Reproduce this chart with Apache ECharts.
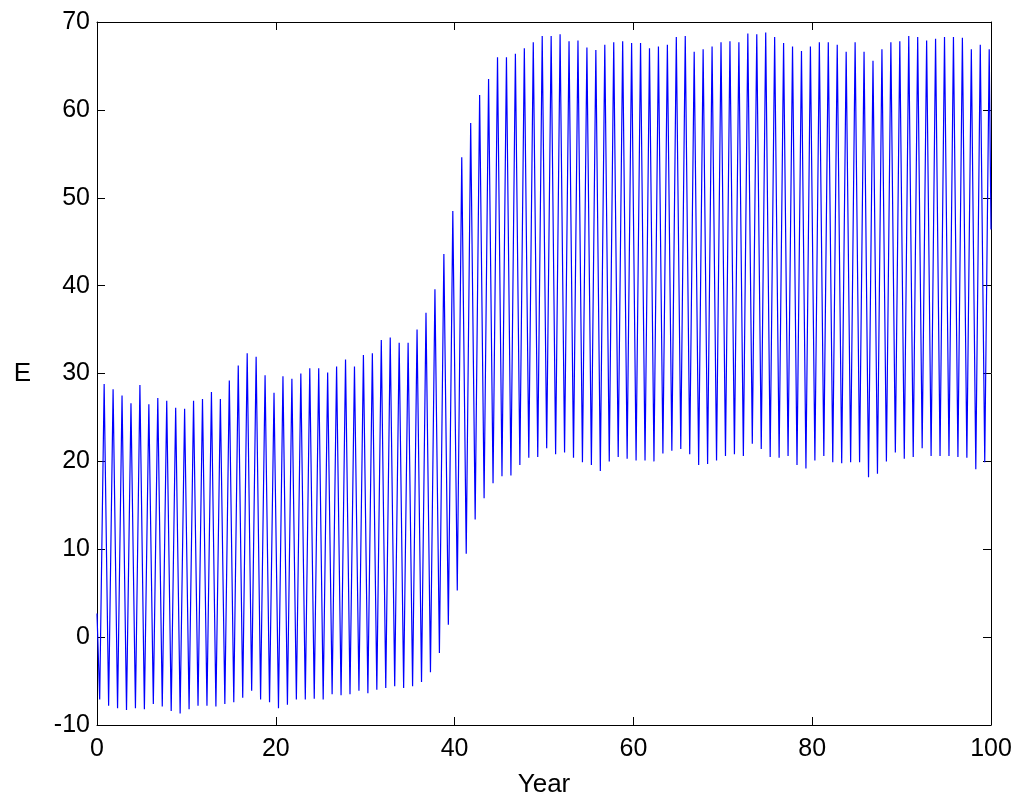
<!DOCTYPE html>
<html>
<head>
<meta charset="utf-8">
<title>E vs Year</title>
<script src="https://cdn.jsdelivr.net/npm/echarts@6/dist/echarts.min.js"></script>
<style>
  html, body { margin: 0; padding: 0; background: #fff; }
  #chart { width: 1019px; height: 803px; }
</style>
</head>
<body>
<div id="chart"></div>
<script>
// Values: one oscillation per year
const startValue = 2.7;   // E at year 0
const endValue = 46.4;    // E at year 100
const troughPhase = 0.3;  // offset within the year of each low
const peakPhase = 0.8;    // offset within the year of each high

// highs, years 0..99
const peaks = [
  28.8, 28.2, 27.5, 26.6, 28.7, 26.5, 27.2, 26.9, 26.1, 26.0,
  26.9, 27.1, 27.9, 27.1, 29.2, 30.9, 32.3, 31.9, 29.8, 27.8,
  29.7, 29.4, 30.0, 30.6, 30.6, 30.1, 30.8, 31.6, 30.8, 32.1,
  32.3, 33.8, 34.1, 33.5, 33.5, 35.0, 36.9, 39.6, 43.6, 48.5,
  54.6, 58.5, 61.7, 63.5, 66.0, 66.0, 66.4, 67.0, 67.7, 68.4,
  68.4, 68.6, 67.8, 67.9, 67.1, 66.8, 67.4, 67.7, 67.8, 67.6,
  67.6, 67.0, 67.2, 67.4, 68.3, 68.4, 66.6, 66.9, 67.2, 67.7,
  67.8, 67.7, 68.7, 68.6, 68.8, 68.3, 67.6, 67.2, 66.7, 67.2,
  67.7, 67.7, 67.4, 66.6, 67.7, 66.6, 65.6, 66.9, 67.7, 67.8,
  68.4, 68.3, 67.9, 68.1, 68.3, 68.3, 68.2, 66.9, 67.4, 66.9
];

// lows, years 0..99
const troughs = [
  -7.1, -7.8, -8.1, -8.3, -8.1, -8.2, -7.6, -7.9, -8.4, -8.7,
  -8.2, -7.8, -7.8, -7.9, -7.6, -7.4, -6.9, -6.1, -7.1, -7.4,
  -8.1, -7.7, -7.1, -7.1, -7.0, -7.1, -6.5, -6.6, -6.5, -6.1,
  -6.4, -6.0, -5.8, -5.6, -5.8, -5.6, -5.1, -4.0, -1.8, 1.4,
  5.3, 9.5, 13.4, 15.8, 17.5, 18.3, 18.4, 19.6, 20.4, 20.5,
  21.5, 20.8, 21.0, 20.4, 19.9, 19.6, 18.9, 20.0, 20.5, 20.3,
  20.1, 20.1, 20.0, 20.9, 21.2, 21.4, 20.8, 19.6, 19.7, 20.1,
  20.6, 20.8, 20.6, 22.0, 21.4, 20.5, 20.4, 20.6, 19.6, 19.2,
  20.1, 20.6, 19.9, 19.8, 19.9, 19.9, 18.2, 18.6, 20.0, 21.0,
  20.3, 20.5, 21.5, 20.6, 20.6, 20.6, 20.5, 20.4, 19.1, 19.9
];

const xTicks = { min: 0, max: 100, interval: 20 };
const yTicks = { min: -10, max: 70, interval: 10 };

// build the line: start, then low and high for every year, then end
const lineData = [[0, startValue]];
for (let i = 0; i < peaks.length; i++) {
  lineData.push([i + troughPhase, troughs[i]]);
  lineData.push([i + peakPhase, peaks[i]]);
}
lineData.push([100, endValue]);

const font = 'Liberation Sans, Arial, Helvetica, sans-serif';
const axisLine = { show: true, onZero: false, lineStyle: { color: '#000', width: 1 } };
const axisTick = { show: true, inside: true, length: 8, lineStyle: { color: '#000', width: 1 } };

const chart = echarts.init(document.getElementById('chart'));

chart.setOption({
  animation: false,
  backgroundColor: '#fff',
  grid: { left: 97, right: 28, top: 22, bottom: 78, containLabel: false },
  xAxis: [
    {
      type: 'value',
      position: 'bottom',
      min: xTicks.min,
      max: xTicks.max,
      interval: xTicks.interval,
      name: 'Year',
      nameLocation: 'middle',
      nameGap: 47,
      nameTextStyle: { fontSize: 26, color: '#000', fontFamily: font },
      axisLine: axisLine,
      axisTick: axisTick,
      splitLine: { show: false },
      axisLabel: { fontSize: 25, color: '#000', fontFamily: font, margin: 12 }
    },
    {
      type: 'value',
      position: 'top',
      min: xTicks.min,
      max: xTicks.max,
      interval: xTicks.interval,
      axisLine: axisLine,
      axisTick: axisTick,
      splitLine: { show: false },
      axisLabel: { show: false }
    }
  ],
  yAxis: [
    {
      type: 'value',
      position: 'left',
      min: yTicks.min,
      max: yTicks.max,
      interval: yTicks.interval,
      name: 'E',
      nameLocation: 'middle',
      nameRotate: 0,
      nameGap: 66,
      nameTextStyle: { fontSize: 26, color: '#000', fontFamily: font },
      axisLine: axisLine,
      axisTick: axisTick,
      splitLine: { show: false },
      axisLabel: { fontSize: 25, color: '#000', fontFamily: font, margin: 7 }
    },
    {
      type: 'value',
      position: 'right',
      min: yTicks.min,
      max: yTicks.max,
      interval: yTicks.interval,
      axisLine: axisLine,
      axisTick: axisTick,
      splitLine: { show: false },
      axisLabel: { show: false }
    }
  ],
  series: [{
    type: 'line',
    xAxisIndex: 0,
    yAxisIndex: 0,
    data: lineData,
    showSymbol: false,
    symbol: 'none',
    clip: true,
    lineStyle: { color: '#0000ff', width: 1.2 }
  }]
});

window.addEventListener('resize', () => chart.resize());
</script>
</body>
</html>
